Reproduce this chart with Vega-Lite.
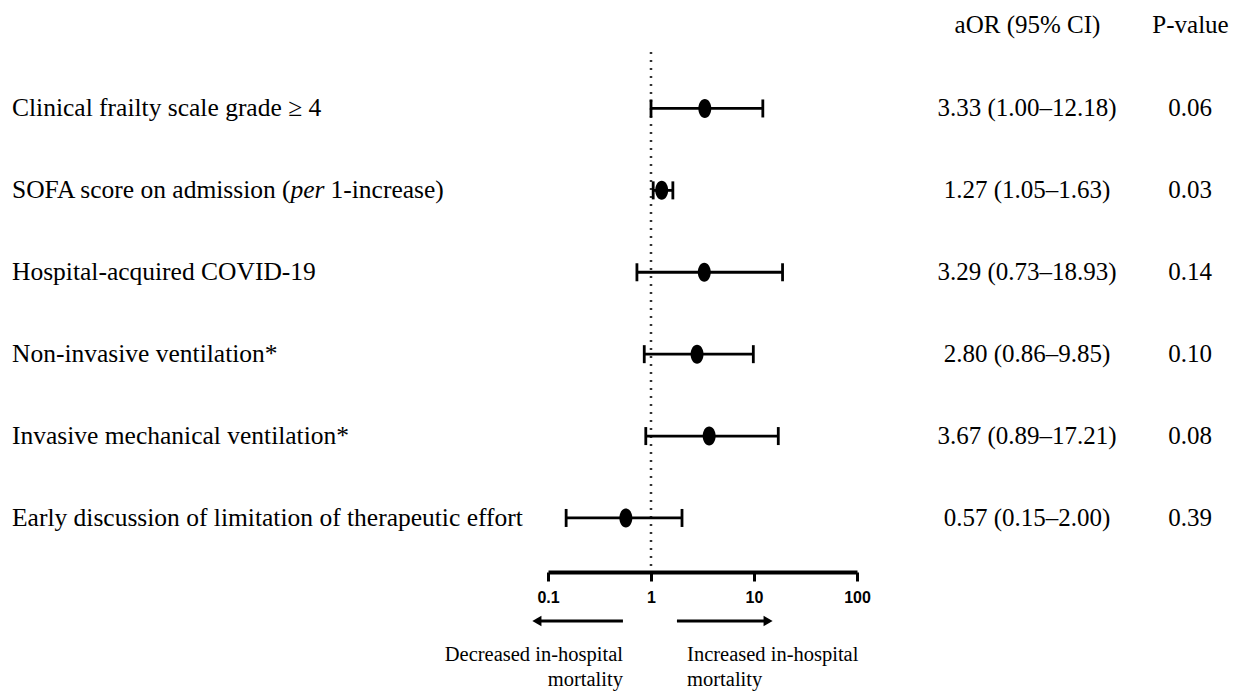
{
  "$schema": "https://vega.github.io/schema/vega-lite/v6.json",
  "background": "white",
  "padding": {"left": 12, "top": 12, "right": 0, "bottom": 0},
  "config": {"view": {"stroke": null}, "text": {"font": "Liberation Serif", "color": "black"}},
  "datasets": {
    "rows": [
      {"label": "Clinical frailty scale grade ≥ 4", "pre": "Clinical frailty scale grade ≥ 4", "ital": "", "post": "", "or": 3.33, "lo": 1.00, "hi": 12.18, "ci": "3.33 (1.00–12.18)", "p": "0.06"},
      {"label": "SOFA score on admission (per 1-increase)", "pre": "SOFA score on admission (", "ital": "per", "post": "1-increase)", "or": 1.27, "lo": 1.05, "hi": 1.63, "ci": "1.27 (1.05–1.63)", "p": "0.03"},
      {"label": "Hospital-acquired COVID-19", "pre": "Hospital-acquired COVID-19", "ital": "", "post": "", "or": 3.29, "lo": 0.73, "hi": 18.93, "ci": "3.29 (0.73–18.93)", "p": "0.14"},
      {"label": "Non-invasive ventilation*", "pre": "Non-invasive ventilation*", "ital": "", "post": "", "or": 2.80, "lo": 0.86, "hi": 9.85, "ci": "2.80 (0.86–9.85)", "p": "0.10"},
      {"label": "Invasive mechanical ventilation*", "pre": "Invasive mechanical ventilation*", "ital": "", "post": "", "or": 3.67, "lo": 0.89, "hi": 17.21, "ci": "3.67 (0.89–17.21)", "p": "0.08"},
      {"label": "Early discussion of limitation of therapeutic effort", "pre": "Early discussion of limitation of therapeutic effort", "ital": "", "post": "", "or": 0.57, "lo": 0.15, "hi": 2.00, "ci": "0.57 (0.15–2.00)", "p": "0.39"}
    ],
    "arrows": [
      {"dir": "left", "from": 0.534, "to": 0.078, "textAt": 0.534, "lines": ["Decreased in-hospital", "mortality"]},
      {"dir": "right", "from": 1.786, "to": 13.7, "textAt": 2.24, "lines": ["Increased in-hospital", "mortality"]}
    ]
  },
  "spacing": 0,
  "vconcat": [
    {
      "bounds": "flush",
      "spacing": 0,
      "hconcat": [
        {
          "width": 536,
          "height": 520,
          "data": {"name": "rows"},
          "encoding": {
            "y": {"field": "label", "type": "nominal", "scale": {"type": "point", "domain": ["Clinical frailty scale grade ≥ 4", "SOFA score on admission (per 1-increase)", "Hospital-acquired COVID-19", "Non-invasive ventilation*", "Invasive mechanical ventilation*", "Early discussion of limitation of therapeutic effort"], "padding": 0.6746, "align": 0.511}, "axis": null},
            "x": {"datum": 0, "type": "quantitative", "scale": {"domain": [0, 1]}, "axis": null}
          },
          "layer": [
            {"mark": {"type": "text", "align": "left", "baseline": "middle", "fontSize": 25.5}, "encoding": {"text": {"field": "pre", "type": "nominal"}}},
            {"mark": {"type": "text", "align": "left", "baseline": "middle", "fontSize": 25.5, "fontStyle": "italic", "dx": 278.5}, "encoding": {"text": {"field": "ital", "type": "nominal"}}},
            {"mark": {"type": "text", "align": "left", "baseline": "middle", "fontSize": 25.5, "dx": 318.5}, "encoding": {"text": {"field": "post", "type": "nominal"}}}
          ]
        },
        {
          "width": 309,
          "height": 520,
          "data": {"name": "rows"},
          "layer": [
            {
              "data": {"values": [{"ref": 1}]},
              "mark": {"type": "rule", "strokeDash": [2, 6], "strokeWidth": 2.5, "color": "#333"},
              "encoding": {
                "x": {"field": "ref", "type": "quantitative", "scale": {"type": "log", "domain": [0.1, 100], "nice": false}, "axis": {"values": [0.1, 1, 10, 100], "format": "~g", "title": null, "grid": false, "domainWidth": 4, "domainColor": "black", "tickColor": "black", "tickWidth": 3, "tickSize": 9, "labelFont": "Liberation Sans", "labelFontWeight": "bold", "labelFontSize": 16, "labelColor": "black", "labelPadding": 8, "labelFlush": false, "labelBaseline": "top"}}
              }
            },
            {
              "mark": {"type": "rule", "strokeWidth": 2.8, "color": "black"},
              "encoding": {
                "x": {"field": "lo", "type": "quantitative", "scale": {"type": "log", "domain": [0.1, 100], "nice": false}, "axis": {"values": [0.1, 1, 10, 100], "format": "~g", "title": null, "grid": false, "domainWidth": 4, "domainColor": "black", "tickColor": "black", "tickWidth": 3, "tickSize": 9, "labelFont": "Liberation Sans", "labelFontWeight": "bold", "labelFontSize": 16, "labelColor": "black", "labelPadding": 8, "labelFlush": false, "labelBaseline": "top"}},
                "x2": {"field": "hi"},
                "y": {"field": "label", "type": "nominal", "scale": {"type": "point", "domain": ["Clinical frailty scale grade ≥ 4", "SOFA score on admission (per 1-increase)", "Hospital-acquired COVID-19", "Non-invasive ventilation*", "Invasive mechanical ventilation*", "Early discussion of limitation of therapeutic effort"], "padding": 0.6746, "align": 0.511}, "axis": null}
              }
            },
            {
              "mark": {"type": "tick", "thickness": 2.8, "size": 18, "color": "black", "opacity": 1},
              "encoding": {
                "x": {"field": "lo", "type": "quantitative", "scale": {"type": "log", "domain": [0.1, 100], "nice": false}, "axis": {"values": [0.1, 1, 10, 100], "format": "~g", "title": null, "grid": false, "domainWidth": 4, "domainColor": "black", "tickColor": "black", "tickWidth": 3, "tickSize": 9, "labelFont": "Liberation Sans", "labelFontWeight": "bold", "labelFontSize": 16, "labelColor": "black", "labelPadding": 8, "labelFlush": false, "labelBaseline": "top"}},
                "y": {"field": "label", "type": "nominal", "scale": {"type": "point", "domain": ["Clinical frailty scale grade ≥ 4", "SOFA score on admission (per 1-increase)", "Hospital-acquired COVID-19", "Non-invasive ventilation*", "Invasive mechanical ventilation*", "Early discussion of limitation of therapeutic effort"], "padding": 0.6746, "align": 0.511}, "axis": null}
              }
            },
            {
              "mark": {"type": "tick", "thickness": 2.8, "size": 18, "color": "black", "opacity": 1},
              "encoding": {
                "x": {"field": "hi", "type": "quantitative", "scale": {"type": "log", "domain": [0.1, 100], "nice": false}, "axis": {"values": [0.1, 1, 10, 100], "format": "~g", "title": null, "grid": false, "domainWidth": 4, "domainColor": "black", "tickColor": "black", "tickWidth": 3, "tickSize": 9, "labelFont": "Liberation Sans", "labelFontWeight": "bold", "labelFontSize": 16, "labelColor": "black", "labelPadding": 8, "labelFlush": false, "labelBaseline": "top"}},
                "y": {"field": "label", "type": "nominal", "scale": {"type": "point", "domain": ["Clinical frailty scale grade ≥ 4", "SOFA score on admission (per 1-increase)", "Hospital-acquired COVID-19", "Non-invasive ventilation*", "Invasive mechanical ventilation*", "Early discussion of limitation of therapeutic effort"], "padding": 0.6746, "align": 0.511}, "axis": null}
              }
            },
            {
              "mark": {"type": "point", "shape": "M -0.68 0 A 0.68 1 0 1 1 0.68 0 A 0.68 1 0 1 1 -0.68 0 Z", "filled": true, "opacity": 1, "size": 361, "color": "black"},
              "encoding": {
                "x": {"field": "or", "type": "quantitative", "scale": {"type": "log", "domain": [0.1, 100], "nice": false}, "axis": {"values": [0.1, 1, 10, 100], "format": "~g", "title": null, "grid": false, "domainWidth": 4, "domainColor": "black", "tickColor": "black", "tickWidth": 3, "tickSize": 9, "labelFont": "Liberation Sans", "labelFontWeight": "bold", "labelFontSize": 16, "labelColor": "black", "labelPadding": 8, "labelFlush": false, "labelBaseline": "top"}},
                "y": {"field": "label", "type": "nominal", "scale": {"type": "point", "domain": ["Clinical frailty scale grade ≥ 4", "SOFA score on admission (per 1-increase)", "Hospital-acquired COVID-19", "Non-invasive ventilation*", "Invasive mechanical ventilation*", "Early discussion of limitation of therapeutic effort"], "padding": 0.6746, "align": 0.511}, "axis": null}
              }
            }
          ]
        },
        {
          "width": 378,
          "height": 520,
          "data": {"name": "rows"},
          "encoding": {
            "y": {"field": "label", "type": "nominal", "scale": {"type": "point", "domain": ["Clinical frailty scale grade ≥ 4", "SOFA score on admission (per 1-increase)", "Hospital-acquired COVID-19", "Non-invasive ventilation*", "Invasive mechanical ventilation*", "Early discussion of limitation of therapeutic effort"], "padding": 0.6746, "align": 0.511}, "axis": null}
          },
          "layer": [
            {
              "mark": {"type": "text", "align": "center", "baseline": "middle", "fontSize": 25},
              "encoding": {
                "x": {"datum": "aOR (95% CI)", "type": "nominal", "scale": {"type": "point", "domain": ["aOR (95% CI)", "P-value"], "padding": 0.6595, "align": 0.7907}, "axis": {"orient": "top", "title": null, "ticks": false, "tickSize": 0, "domain": false, "labelAngle": 0, "labelFont": "Liberation Serif", "labelFontSize": 25, "labelColor": "black", "labelPadding": 28, "labelBaseline": "middle"}},
                "text": {"field": "ci", "type": "nominal"}
              }
            },
            {
              "mark": {"type": "text", "align": "center", "baseline": "middle", "fontSize": 25},
              "encoding": {
                "x": {"datum": "P-value", "type": "nominal", "scale": {"type": "point", "domain": ["aOR (95% CI)", "P-value"], "padding": 0.6595, "align": 0.7907}, "axis": {"orient": "top", "title": null, "ticks": false, "tickSize": 0, "domain": false, "labelAngle": 0, "labelFont": "Liberation Serif", "labelFontSize": 25, "labelColor": "black", "labelPadding": 28, "labelBaseline": "middle"}},
                "text": {"field": "p", "type": "nominal"}
              }
            }
          ]
        }
      ]
    },
    {
      "width": 845,
      "height": 85,
      "data": {"name": "arrows"},
      "layer": [
        {
          "mark": {"type": "rule", "strokeWidth": 3, "color": "black"},
          "encoding": {
            "x": {"field": "from", "type": "quantitative", "scale": {"type": "log", "domain": [6.253e-7, 100], "nice": false}, "axis": null},
            "x2": {"field": "to"},
            "y": {"datum": "arrow", "type": "nominal", "scale": {"type": "point", "domain": ["arrow", "text"], "padding": 0.75, "align": 0.3137}, "axis": null}
          }
        },
        {
          "mark": {"type": "point", "filled": true, "opacity": 1, "size": 110, "color": "black"},
          "encoding": {
            "x": {"field": "to", "type": "quantitative", "scale": {"type": "log", "domain": [6.253e-7, 100], "nice": false}, "axis": null},
            "y": {"datum": "arrow", "type": "nominal", "scale": {"type": "point", "domain": ["arrow", "text"], "padding": 0.75, "align": 0.3137}, "axis": null},
            "shape": {"field": "dir", "type": "nominal", "scale": {"domain": ["left", "right"], "range": ["triangle-left", "triangle-right"]}, "legend": null}
          }
        },
        {
          "transform": [{"filter": "datum.dir === 'left'"}],
          "mark": {"type": "text", "align": "right", "baseline": "middle", "fontSize": 20.5, "lineHeight": 25},
          "encoding": {
            "x": {"field": "textAt", "type": "quantitative", "scale": {"type": "log", "domain": [6.253e-7, 100], "nice": false}, "axis": null},
            "y": {"datum": "text", "type": "nominal", "scale": {"type": "point", "domain": ["arrow", "text"], "padding": 0.75, "align": 0.3137}, "axis": null},
            "text": {"field": "lines", "type": "nominal"}
          }
        },
        {
          "transform": [{"filter": "datum.dir === 'right'"}],
          "mark": {"type": "text", "align": "left", "baseline": "middle", "fontSize": 20.5, "lineHeight": 25},
          "encoding": {
            "x": {"field": "textAt", "type": "quantitative", "scale": {"type": "log", "domain": [6.253e-7, 100], "nice": false}, "axis": null},
            "y": {"datum": "text", "type": "nominal", "scale": {"type": "point", "domain": ["arrow", "text"], "padding": 0.75, "align": 0.3137}, "axis": null},
            "text": {"field": "lines", "type": "nominal"}
          }
        }
      ]
    }
  ]
}
